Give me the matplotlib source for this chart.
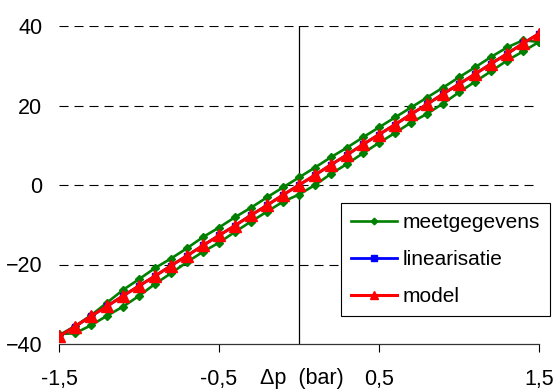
import matplotlib
matplotlib.use("Agg")
import matplotlib.pyplot as plt

plt.rcParams['font.family'] = ['Liberation Sans', 'DejaVu Sans']
plt.rcParams['lines.scale_dashes'] = False

# pressure difference (bar)
dp = [-1.5, -1.4, -1.3, -1.2, -1.1, -1.0, -0.9, -0.8, -0.7, -0.6, -0.5,
      -0.4, -0.3, -0.2, -0.1, 0.0, 0.1, 0.2, 0.3, 0.4, 0.5,
      0.6, 0.7, 0.8, 0.9, 1.0, 1.1, 1.2, 1.3, 1.4, 1.5]

# measured data: rising branch then falling branch (hysteresis loop)
meet_up = [-37.5, -37.3, -35.3, -32.9, -30.6, -27.9, -24.9, -22.2, -19.4, -16.8, -14.5,
           -11.8, -9.2, -6.7, -4.2, -2.4, 0.0, 2.8, 5.3, 8.0, 10.6,
           13.1, 15.7, 17.9, 20.5, 23.3, 26.0, 28.6, 31.3, 33.6, 36.0]
meet_down = [-37.8, -35.5, -32.8, -29.6, -26.4, -23.7, -20.9, -18.5, -15.9, -13.1, -10.7,
             -8.1, -5.7, -3.1, -0.6, 1.9, 4.4, 7.0, 9.4, 12.0, 14.5,
             17.0, 19.5, 22.0, 24.5, 27.1, 29.6, 32.2, 34.6, 36.4, 36.0]

linearisatie = [-38.1, -35.6, -33.0, -30.5, -27.9, -25.4, -22.9, -20.3, -17.8, -15.2, -12.7,
                -10.2, -7.6, -5.1, -2.5, 0.0, 2.5, 5.1, 7.6, 10.2, 12.7,
                15.2, 17.8, 20.3, 22.9, 25.4, 27.9, 30.5, 33.0, 35.6, 38.1]
model = [-38.1, -35.6, -33.0, -30.5, -27.9, -25.4, -22.9, -20.3, -17.8, -15.2, -12.7,
         -10.2, -7.6, -5.1, -2.5, 0.0, 2.5, 5.1, 7.6, 10.2, 12.7,
         15.2, 17.8, 20.3, 22.9, 25.4, 27.9, 30.5, 33.0, 35.6, 38.1]

xticks = [-1.5, -0.5, 0.5, 1.5]
xticklabels = ['-1,5', '-0,5', '0,5', '1,5']
yticks = [-40, -20, 0, 20, 40]

fig = plt.figure(figsize=(5.56, 3.90), dpi=100)
ax = fig.add_axes([59 / 556, 1 - 344 / 390, 480 / 556, 318 / 390])

# dashed gridlines
for y in yticks[1:]:
    ax.axhline(y, color='black', lw=0.8, dashes=(6.5, 4.3), zorder=1)
ax.axvline(0, color='black', lw=0.9, zorder=1)

meet_x = dp + dp[::-1]
meet_y = meet_up + meet_down[::-1]
ax.plot(meet_x, meet_y, color='#008000', lw=1.9, marker='D', ms=4.2,
        label='meetgegevens', zorder=3)
ax.plot(dp, linearisatie, color='#0000ff', lw=2.0, marker='s', ms=5,
        label='linearisatie', zorder=4)
ax.plot(dp, model, color='#ff0000', lw=2.2, marker='^', ms=8,
        label='model', zorder=5)

ax.set_xlim(-1.5, 1.5)
ax.set_ylim(-40, 40)
ax.set_xticks(xticks)
ax.set_xticklabels(xticklabels)
ax.set_yticks(yticks)
ax.tick_params(axis='x', length=6, width=0.8, pad=12, labelsize=15.5, direction='out')
ax.tick_params(axis='y', length=0, pad=12, labelsize=15.5)

for s in ['top', 'right', 'left']:
    ax.spines[s].set_visible(False)
ax.spines['bottom'].set_linewidth(0.9)
ax.spines['bottom'].set_color('#333333')

ax.set_xlabel('\u0394p  (bar)', fontsize=15.5)
ax.xaxis.set_label_coords(0.505, -0.076)

leg = ax.legend(loc='upper right', bbox_to_anchor=(550 / 556, 1 - 203 / 390),
                bbox_transform=fig.transFigure, fontsize=15, numpoints=1,
                markerscale=0.8, handlelength=2.2, handletextpad=0.25,
                labelspacing=0.85, borderpad=0.5, borderaxespad=0,
                fancybox=False, framealpha=1, edgecolor='black')
leg.get_frame().set_linewidth(0.8)
leg.set_zorder(10)

fig.savefig('out.png', dpi=100)
